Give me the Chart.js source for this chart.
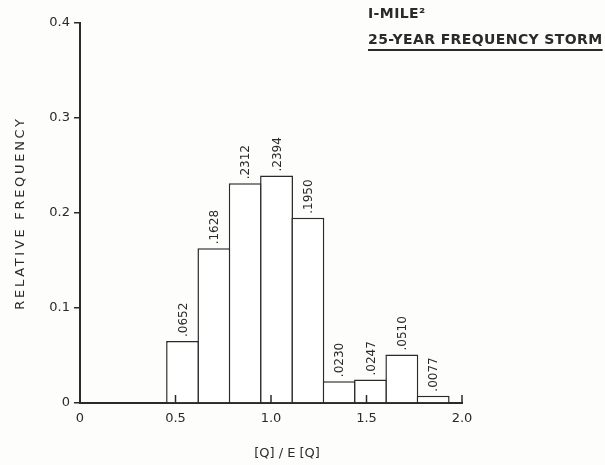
<!DOCTYPE html>
<html>
<head>
<meta charset="utf-8">
<script src="https://cdn.jsdelivr.net/npm/chart.js@4.4.1/dist/chart.umd.min.js"></script>
<style>
  html, body { margin: 0; padding: 0; background: #fdfdfc; }
  #wrap { width: 605px; height: 465px; }
</style>
</head>
<body>
<div id="wrap"><canvas id="hist"></canvas></div>
<script>
// bin centres of [Q]/E[Q] and relative frequency of each bin
var binCenters = [0.537, 0.701, 0.865, 1.029, 1.193, 1.357, 1.521, 1.685, 1.849]
var relFreq = [0.0652, 0.1628, 0.2312, 0.2394, 0.1950, 0.0230, 0.0247, 0.0510, 0.0077]
var freqLabels = [".0652", ".1628", ".2312", ".2394", ".1950", ".0230", ".0247", ".0510", ".0077"]
var xTicks = [0, 0.5, 1.0, 1.5, 2.0]
var yTicks = [0, 0.1, 0.2, 0.3, 0.4]
var titleLines = ["I-MILE\u00b2", "25-YEAR FREQUENCY STORM"]
var xTitle = "[Q] / E [Q]"
var yTitle = "RELATIVE FREQUENCY"

var ink = "#2a2a2a"
var font = "'DejaVu Sans', sans-serif"

var points = binCenters.map(function (c, i) { return { x: c, y: relFreq[i] } })

var textPlugin = {
    id: 'texts',
    afterDatasetsDraw: function (chart) {
        var ctx = chart.ctx
        var meta = chart.getDatasetMeta(0)
        ctx.save()
        ctx.fillStyle = ink
        // value labels above the bars, reading upward
        ctx.font = "12px " + font
        meta.data.forEach(function (bar, i) {
            ctx.save()
            ctx.translate(bar.x + 1, bar.y - 4)
            ctx.rotate(-Math.PI / 2)
            ctx.textAlign = 'left'
            ctx.textBaseline = 'middle'
            ctx.fillText(freqLabels[i], 0, 0)
            ctx.restore()
        })
        // small inward ticks on the x axis
        var xs = chart.scales.x
        var base = chart.chartArea.bottom
        ctx.strokeStyle = ink
        ctx.lineWidth = 1.5
        xTicks.forEach(function (t) {
            if (t === 0) return
            var px = xs.getPixelForValue(t)
            ctx.beginPath()
            ctx.moveTo(px, base)
            ctx.lineTo(px, base - 8)
            ctx.stroke()
        })
        // y axis title
        ctx.save()
        ctx.font = "13px " + font
        ctx.letterSpacing = "2.7px"
        ctx.translate(21, (chart.chartArea.top + chart.chartArea.bottom) / 2)
        ctx.rotate(-Math.PI / 2)
        ctx.textAlign = 'center'
        ctx.textBaseline = 'middle'
        ctx.fillText(yTitle, 0, 0)
        ctx.restore()
        // x axis title
        ctx.font = "13px " + font
        ctx.textAlign = 'center'
        ctx.textBaseline = 'middle'
        ctx.fillText(xTitle, 287, 454)
        // caption top right
        ctx.textAlign = 'left'
        ctx.font = "bold 14px " + font
        ctx.letterSpacing = "0.4px"
        ctx.fillText(titleLines[0], 368, 14)
        ctx.fillText(titleLines[1], 368, 40)
        var w = ctx.measureText(titleLines[1]).width
        ctx.lineWidth = 2
        ctx.beginPath()
        ctx.moveTo(368, 50)
        ctx.lineTo(368 + w, 50)
        ctx.stroke()
        ctx.restore()
    }
}

var hist = new Chart(document.getElementById("hist"), {
    type: 'bar',
    data: {
        datasets: [
            {
                data: points,
                backgroundColor: "#ffffff",
                borderColor: ink,
                borderWidth: 1.5,
                barPercentage: 1.05,
                categoryPercentage: 1
            }
        ]
    },
    options: {
        responsive: true,
        maintainAspectRatio: false,
        animation: false,
        layout: { padding: { top: 23, right: 143, left: 0, bottom: 0 } },
        plugins: { legend: { display: false }, tooltip: { enabled: false } },
        scales: {
            x: {
                type: 'linear',
                min: 0,
                max: 2,
                offset: false,
                afterBuildTicks: function (s) { s.ticks = xTicks.map(function (v) { return { value: v } }) },
                afterFit: function (s) { s.height = 62 },
                grid: { display: false, drawTicks: false },
                border: { display: true, color: ink, width: 2 },
                ticks: {
                    color: ink,
                    padding: 8,
                    font: { family: font, size: 13 },
                    callback: function (v) { return v === 0 ? "0" : v.toFixed(1) }
                }
            },
            y: {
                min: 0,
                max: 0.4,
                afterBuildTicks: function (s) { s.ticks = yTicks.map(function (v) { return { value: v } }) },
                afterFit: function (s) { s.width = 80 },
                grid: { drawOnChartArea: false, drawTicks: true, tickLength: 6, color: ink, lineWidth: 1.5 },
                border: { display: true, color: ink, width: 2 },
                ticks: {
                    color: ink,
                    padding: 4,
                    font: { family: font, size: 13 },
                    callback: function (v) { return v === 0 ? "0" : v.toFixed(1) }
                }
            }
        }
    },
    plugins: [textPlugin]
});
</script>
</body>
</html>
